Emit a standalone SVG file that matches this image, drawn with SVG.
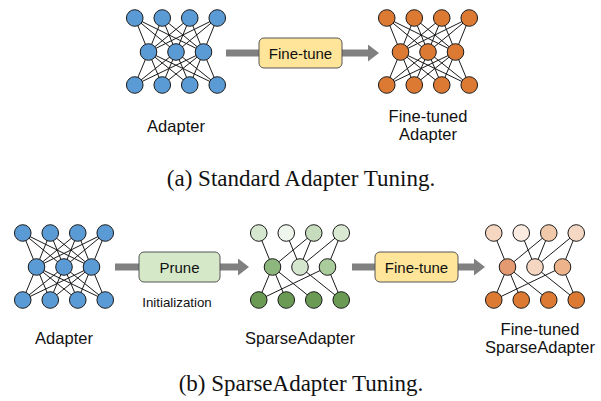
<svg xmlns="http://www.w3.org/2000/svg" xmlns:xlink="http://www.w3.org/1999/xlink" width="601" height="401" viewBox="0 0 601 401">
<style>
.bg{fill:#ffffff}
.edge{stroke:#1a1a1a;stroke-width:1;fill:none}
.n circle, circle.n{stroke:#1a1a1a;stroke-width:1}
.arrow{stroke:#808080;stroke-width:7;fill:none}
.box{stroke:#555555;stroke-width:1}
.lbl{font-family:"Liberation Sans",Arial,sans-serif;font-size:16.5px;fill:#111111;text-anchor:middle}
.btxt{font-family:"Liberation Sans",Arial,sans-serif;font-size:15px;fill:#111111;text-anchor:middle;dominant-baseline:central}
.small{font-family:"Liberation Sans",Arial,sans-serif;font-size:13.3px;fill:#111111;text-anchor:middle}
.cap{font-family:"Liberation Serif","Times New Roman",serif;font-size:23px;fill:#111111;text-anchor:middle}
</style>
<defs>
<marker id="head" markerUnits="userSpaceOnUse" markerWidth="12" markerHeight="18" refX="0" refY="8.5" orient="auto">
<path d="M0,0 L11,8.5 L0,17 Z" fill="#808080"/>
</marker>
<g id="fullEdges" class="edge">
<path d="M-41.25,0 L-27.5,34 M-41.25,0 L0,34 M-41.25,0 L27.5,34 M-13.75,0 L-27.5,34 M-13.75,0 L0,34 M-13.75,0 L27.5,34 M13.75,0 L-27.5,34 M13.75,0 L0,34 M13.75,0 L27.5,34 M41.25,0 L-27.5,34 M41.25,0 L0,34 M41.25,0 L27.5,34"/>
<path d="M-27.5,34 L-41.25,67 M-27.5,34 L-13.75,67 M-27.5,34 L13.75,67 M-27.5,34 L41.25,67 M0,34 L-41.25,67 M0,34 L-13.75,67 M0,34 L13.75,67 M0,34 L41.25,67 M27.5,34 L-41.25,67 M27.5,34 L-13.75,67 M27.5,34 L13.75,67 M27.5,34 L41.25,67"/>
</g>
<g id="fullNodes" class="n">
<circle cx="-41.25" cy="0" r="8.3"/><circle cx="-13.75" cy="0" r="8.3"/><circle cx="13.75" cy="0" r="8.3"/><circle cx="41.25" cy="0" r="8.3"/>
<circle cx="-27.5" cy="34" r="8.3"/><circle cx="0" cy="34" r="8.3"/><circle cx="27.5" cy="34" r="8.3"/>
<circle cx="-41.25" cy="67" r="8.3"/><circle cx="-13.75" cy="67" r="8.3"/><circle cx="13.75" cy="67" r="8.3"/><circle cx="41.25" cy="67" r="8.3"/>
</g>
<g id="sparseEdges" class="edge">
<path d="M-41.25,0 L-27.5,34 M-13.75,0 L0,34 M13.75,0 L-27.5,34 M13.75,0 L0,34 M41.25,0 L0,34 M41.25,0 L27.5,34"/>
<path d="M-27.5,34 L-41.25,67 M-27.5,34 L-13.75,67 M-27.5,34 L13.75,67 M27.5,34 L-41.25,67 M0,34 L41.25,67 M27.5,34 L41.25,67"/>
</g>
</defs>
<rect class="bg" x="0" y="0" width="601" height="401"/>

<g id="connectors">
<line class="arrow" x1="226" y1="53" x2="368" y2="53" marker-end="url(#head)"/>
<line class="arrow" x1="115" y1="267" x2="238" y2="267" marker-end="url(#head)"/>
<line class="arrow" x1="352" y1="267" x2="474" y2="267" marker-end="url(#head)"/>
</g>

<g id="adapter-top" transform="translate(176,18)">
<use href="#fullEdges"/>
<use href="#fullNodes" fill="#5b9bd5"/>
</g>
<g id="finetuned-adapter-top" transform="translate(428,18)">
<use href="#fullEdges"/>
<use href="#fullNodes" fill="#dc7a34"/>
</g>
<g id="finetune-box-top">
<rect class="box" x="259" y="38" width="83" height="30" rx="5" fill="#ffe599"/>
<text class="btxt" x="300.5" y="53">Fine-tune</text>
</g>
<g id="label-adapter-top"><text class="lbl" x="176" y="132">Adapter</text></g>
<g id="label-finetuned-top"><text class="lbl" x="428" y="122">Fine-tuned</text><text class="lbl" x="428" y="140">Adapter</text></g>
<g id="caption-a"><text class="cap" x="301" y="186">(a) Standard Adapter Tuning.</text></g>

<g id="adapter-bottom" transform="translate(64,233)">
<use href="#fullEdges"/>
<use href="#fullNodes" fill="#5b9bd5"/>
</g>
<g id="prune-box">
<rect class="box" x="139" y="252" width="81" height="30" rx="5" fill="#d5e8c8"/>
<text class="btxt" x="179.5" y="267">Prune</text>
</g>
<g id="label-init"><text class="small" x="177" y="307">Initialization</text></g>
<g id="sparse-adapter" transform="translate(300,233)">
<use href="#sparseEdges"/>
<g class="n">
<circle cx="-41.25" cy="0" r="8.3" fill="#d6e7cf"/><circle cx="-13.75" cy="0" r="8.3" fill="#eef5ea"/><circle cx="13.75" cy="0" r="8.3" fill="#c6dcbc"/><circle cx="41.25" cy="0" r="8.3" fill="#d9e9d2"/>
<circle cx="-27.5" cy="34" r="8.3" fill="#8db77c"/><circle cx="0" cy="34" r="8.3" fill="#d5e6ce"/><circle cx="27.5" cy="34" r="8.3" fill="#aacb9b"/>
<circle cx="-41.25" cy="67" r="8.3" fill="#6a9a53"/><circle cx="-13.75" cy="67" r="8.3" fill="#6a9a53"/><circle cx="13.75" cy="67" r="8.3" fill="#6a9a53"/><circle cx="41.25" cy="67" r="8.3" fill="#6a9a53"/>
</g>
</g>
<g id="finetune-box-bottom">
<rect class="box" x="375" y="252" width="83" height="30" rx="5" fill="#ffe599"/>
<text class="btxt" x="416.5" y="267">Fine-tune</text>
</g>
<g id="finetuned-sparse-adapter" transform="translate(535,233)">
<use href="#sparseEdges"/>
<g class="n">
<circle cx="-41.25" cy="0" r="8.3" fill="#f5d6c1"/><circle cx="-13.75" cy="0" r="8.3" fill="#fcebe0"/><circle cx="13.75" cy="0" r="8.3" fill="#f0c8aa"/><circle cx="41.25" cy="0" r="8.3" fill="#f5d8c4"/>
<circle cx="-27.5" cy="34" r="8.3" fill="#e39a70"/><circle cx="0" cy="34" r="8.3" fill="#f5d6c1"/><circle cx="27.5" cy="34" r="8.3" fill="#edb48c"/>
<circle cx="-41.25" cy="67" r="8.3" fill="#dc7a34"/><circle cx="-13.75" cy="67" r="8.3" fill="#dc7a34"/><circle cx="13.75" cy="67" r="8.3" fill="#dc7a34"/><circle cx="41.25" cy="67" r="8.3" fill="#dc7a34"/>
</g>
</g>
<g id="label-adapter-bottom"><text class="lbl" x="64" y="344">Adapter</text></g>
<g id="label-sparse"><text class="lbl" x="300" y="344">SparseAdapter</text></g>
<g id="label-finetuned-sparse"><text class="lbl" x="540" y="335">Fine-tuned</text><text class="lbl" x="540" y="353">SparseAdapter</text></g>
<g id="caption-b"><text class="cap" x="301" y="391">(b) SparseAdapter Tuning.</text></g>
</svg>
